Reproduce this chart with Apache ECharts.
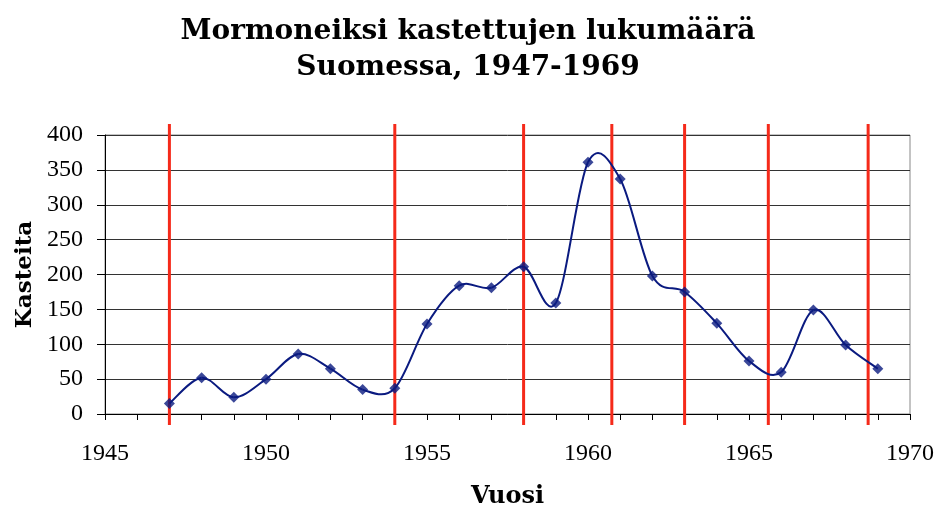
<!DOCTYPE html>
<html>
<head>
<meta charset="utf-8">
<script src="https://cdn.jsdelivr.net/npm/echarts@6/dist/echarts.min.js"></script>
<style>html,body{margin:0;padding:0;background:#fff}#c{width:936px;height:509px}</style>
</head>
<body>
<div id="c"></div>
<script>
const years = [1947,1948,1949,1950,1951,1952,1953,1954,1955,1956,1957,1958,1959,1960,1961,1962,1963,1964,1965,1966,1967,1968,1969];
const baptisms = [15,52,24,50,86,65,35,37,129,184,181,211,159,361,337,198,175,130,76,60,149,99,65];
const markerYears = [1947,1954,1958,1960.74,1963,1965.6,1968.7];
const titleText = 'Mormoneiksi kastettujen lukumäärä\nSuomessa, 1947-1969';
const xName = 'Vuosi';
const yName = 'Kasteita';

const chart = echarts.init(document.getElementById('c'), null, {renderer:'canvas'});
const serif = '"Liberation Serif", "DejaVu Serif", serif';
const boldSerif = '"DejaVu Serif", serif';
const navy = '#0a1a80';

// Smooth (Catmull-Rom style) segment between point i and i+1, drawn in pixel space
function segmentPath(api, i) {
  const n = years.length;
  const p = j => api.coord([years[Math.max(0, Math.min(n - 1, j))], baptisms[Math.max(0, Math.min(n - 1, j))]]);
  const p0 = p(i - 1), p1 = p(i), p2 = p(i + 1), p3 = p(i + 2);
  const t = 1 / 6;
  const c1 = [p1[0] + (p2[0] - p0[0]) * t, p1[1] + (p2[1] - p0[1]) * t];
  const c2 = [p2[0] - (p3[0] - p1[0]) * t, p2[1] - (p3[1] - p1[1]) * t];
  return 'M' + p1[0] + ' ' + p1[1] + ' C' + c1[0] + ' ' + c1[1] + ' ' + c2[0] + ' ' + c2[1] + ' ' + p2[0] + ' ' + p2[1];
}

chart.setOption({
  animation: false,
  backgroundColor: '#fff',
  title: {
    text: titleText,
    left: 'center',
    top: 9,
    textStyle: {fontFamily: boldSerif, fontWeight: 'bold', fontSize: 28, lineHeight: 36, color: '#000'}
  },
  grid: {left: 105, right: 26, top: 135, bottom: 95, show: true, borderColor: '#888', borderWidth: 1, outerBoundsMode: 'none', containLabel: false},
  xAxis: {
    type: 'value', min: 1945, max: 1970, interval: 1,
    name: xName, nameLocation: 'middle', nameGap: 71,
    nameTextStyle: {fontFamily: boldSerif, fontWeight: 'bold', fontSize: 24, color: '#000'},
    axisLine: {show: true, onZero: false, lineStyle: {color: '#000', width: 1}},
    axisTick: {show: true, length: 6, lineStyle: {color: '#000'}},
    axisLabel: {margin: 28, fontFamily: serif, fontSize: 24, color: '#000',
      formatter: v => (v % 5 === 0 ? String(v) : '')},
    splitLine: {show: false}
  },
  yAxis: {
    type: 'value', min: 0, max: 400, interval: 50,
    name: yName, nameLocation: 'middle', nameGap: 66, nameRotate: 90,
    nameTextStyle: {fontFamily: boldSerif, fontWeight: 'bold', fontSize: 23, color: '#000'},
    axisLine: {show: true, lineStyle: {color: '#000', width: 1}},
    axisTick: {show: true, length: 8, lineStyle: {color: '#000'}},
    axisLabel: {margin: 22, fontFamily: serif, fontSize: 24, color: '#000'},
    splitLine: {show: true, lineStyle: {color: '#333', width: 1}}
  },
  series: [
    {
      type: 'custom',
      z: 1,
      clip: false,
      data: markerYears.map(v => [v]),
      renderItem: function (params, api) {
        const top = api.coord([api.value(0), 400]);
        const bot = api.coord([api.value(0), 0]);
        return {type: 'line', shape: {x1: top[0], y1: top[1] - 11, x2: bot[0], y2: bot[1] + 11},
          style: {stroke: '#f52a1a', lineWidth: 3}};
      }
    },
    {
      type: 'custom',
      z: 2,
      clip: false,
      data: years.slice(0, -1).map((y, i) => [y, baptisms[i]]),
      renderItem: function (params, api) {
        return {type: 'path', shape: {pathData: segmentPath(api, params.dataIndex)},
          style: {stroke: navy, lineWidth: 2, fill: null}};
      }
    },
    {
      type: 'scatter',
      z: 3,
      data: years.map((y, i) => [y, baptisms[i]]),
      symbol: 'diamond',
      symbolSize: 11,
      itemStyle: {color: navy}
    }
  ]
});
</script>
</body>
</html>
